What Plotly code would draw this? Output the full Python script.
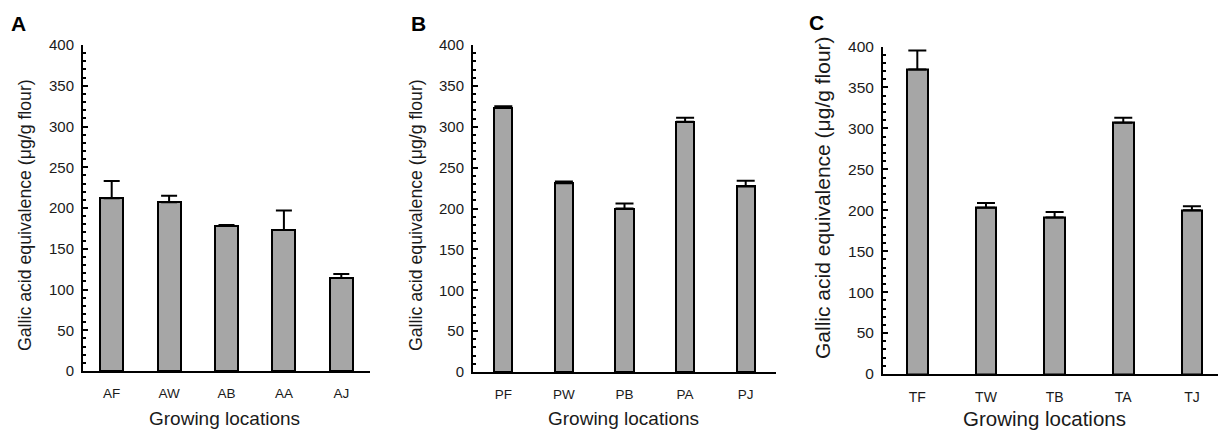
import plotly.graph_objects as go

# ---- data ----
cats_a = ["AF", "AW", "AB", "AA", "AJ"]
vals_a = [212, 207, 178, 173, 114]
err_a = [21, 8, 1, 24, 5]

cats_b = ["PF", "PW", "PB", "PA", "PJ"]
vals_b = [323, 231, 200, 306, 227]
err_b = [2, 2, 6, 5, 7]

cats_c = ["TF", "TW", "TB", "TA", "TJ"]
vals_c = [372, 203, 191, 307, 200]
err_c = [23, 6, 7, 6, 5]

y_ticks = [0, 50, 100, 150, 200, 250, 300, 350, 400]
panel_letters = ["A", "B", "C"]
y_title = "Gallic acid equivalence (μg/g flour)"
x_title = "Growing locations"

FONT = "Arial, Liberation Sans, sans-serif"
W, H = 1218, 431
BAR_FILL = "#a6a6a6"
TXT = "#1a1a1a"

fig = go.Figure()

panels = [
    dict(cats=cats_a, vals=vals_a, err=err_a, ax="", bw=0.40, cap=8,
         xdom=(83, 370), y0=371, y400=45, xr=[-0.5, 4.5],
         ytx=25, yty=215, xtx=224, xty=418, tfs=17.7, xtfs=19, tickfs=15, lx=9, ly=10),
    dict(cats=cats_b, vals=vals_b, err=err_b, ax="2", bw=0.30, cap=9,
         xdom=(473, 776), y0=372, y400=45, xr=[-0.5, 4.5],
         ytx=416, yty=215, xtx=623, xty=418, tfs=17.7, xtfs=19, tickfs=15, lx=409, ly=10),
    dict(cats=cats_c, vals=vals_c, err=err_c, ax="3", bw=0.30, cap=9,
         xdom=(883, 1218), y0=374, y400=46.5, xr=[-0.5, 4.38],
         ytx=823, yty=198, xtx=1044, xty=418, tfs=21, xtfs=20.5, tickfs=15.5, lx=807, ly=9),
]

annotations = []
for i, p in enumerate(panels):
    fig.add_trace(go.Bar(
        x=p["cats"], y=p["vals"], width=p["bw"],
        marker=dict(color=BAR_FILL, line=dict(color="black", width=2)),
        error_y=dict(type="data", symmetric=False, array=p["err"],
                     arrayminus=[0] * len(p["err"]), color="black",
                     thickness=2, width=p["cap"]),
        xaxis="x" + p["ax"], yaxis="y" + p["ax"], showlegend=False,
    ))
    xd = [p["xdom"][0] / W, p["xdom"][1] / W]
    yd = [(H - p["y0"]) / H, (H - p["y400"]) / H]
    xkey = "xaxis" + p["ax"]
    ykey = "yaxis" + p["ax"]
    fig.update_layout(**{
        xkey: dict(domain=xd, range=p["xr"], anchor="y" + p["ax"], automargin=False,
                   showline=True, linecolor="black", linewidth=2,
                   ticks="", showgrid=False, zeroline=False,
                   tickfont=dict(family=FONT, size=p["tickfs"] - 1.5, color=TXT),
                   ticklabelstandoff=9),
        ykey: dict(domain=yd, range=[0, 400], anchor="x" + p["ax"], automargin=False,
                   showline=True, linecolor="black", linewidth=2,
                   tickvals=y_ticks, ticks="inside", ticklen=5, tickwidth=2,
                   tickcolor="black", showgrid=False, zeroline=False,
                   minor=dict(ticks="inside", dtick=10, ticklen=3, tickwidth=1.5,
                              tickcolor="black", showgrid=False),
                   tickfont=dict(family=FONT, size=p["tickfs"], color=TXT),
                   ticklabelstandoff=4),
    })
    annotations.append(dict(text=y_title, x=p["ytx"] / W, y=(H - p["yty"]) / H,
                            xref="paper", yref="paper", textangle=-90,
                            xanchor="center", yanchor="middle", showarrow=False,
                            font=dict(family=FONT, size=p["tfs"], color=TXT)))
    annotations.append(dict(text=x_title, x=p["xtx"] / W, y=(H - p["xty"]) / H,
                            xref="paper", yref="paper",
                            xanchor="center", yanchor="middle", showarrow=False,
                            font=dict(family=FONT, size=p["xtfs"], color=TXT)))
    annotations.append(dict(text="<b>" + panel_letters[i] + "</b>",
                            x=p["lx"] / W, y=(H - p["ly"]) / H,
                            xref="paper", yref="paper",
                            xanchor="left", yanchor="top", showarrow=False,
                            font=dict(family=FONT, size=21, color="black")))

fig.update_layout(width=W, height=H, margin=dict(l=0, r=0, t=0, b=0, autoexpand=False),
                  paper_bgcolor="white", plot_bgcolor="white",
                  annotations=annotations, bargap=0)

fig.write_html(
    "out.html",
    config={"responsive": False, "displayModeBar": False},
    post_script="document.body.style.margin='0';document.body.style.overflow='hidden';",
)
